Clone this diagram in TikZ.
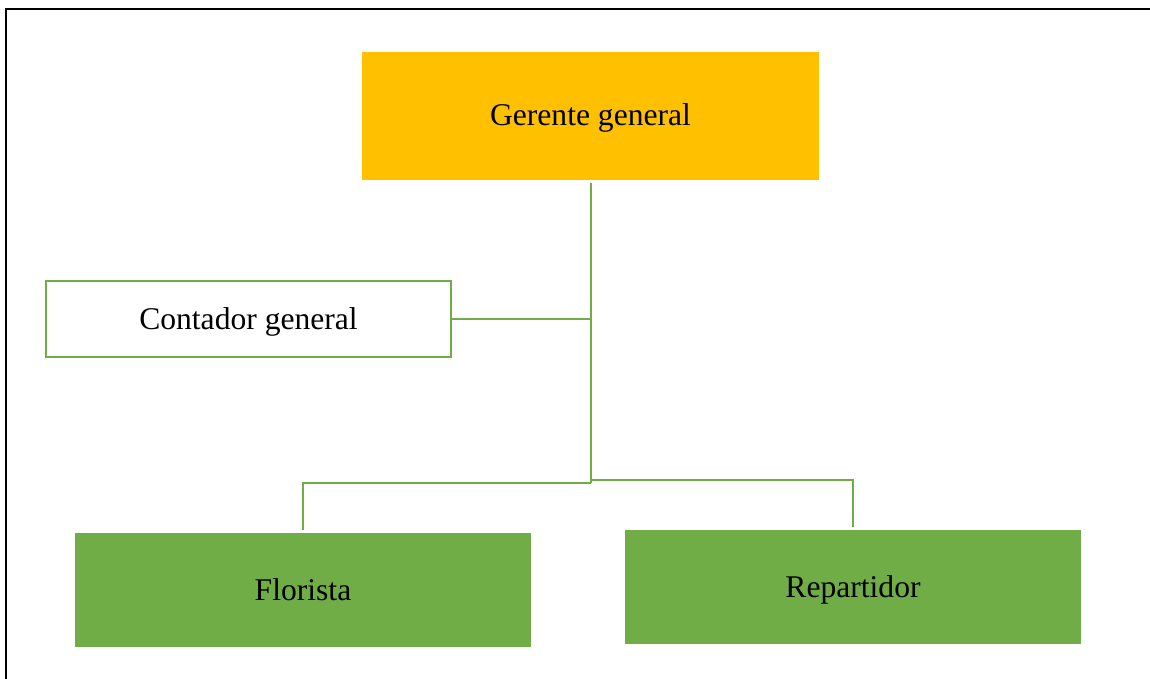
\documentclass[tikz,border=0pt]{standalone}
\usepackage{fontspec}
\setmainfont{Liberation Serif}
\usepackage{xcolor}
\usepackage{tikz}
\usetikzlibrary{positioning, calc}

\definecolor{jefeOro}{HTML}{FFC000}
\definecolor{verdeHoja}{HTML}{70AD47}

\begin{document}
\begin{tikzpicture}[x=0.5pt, y=-0.5pt,
  font=\fontsize{15.8}{19}\selectfont,
  cargo/.style={inner sep=0pt, text height=13pt, text depth=3pt, minimum width=228pt, minimum height=57pt},
  jefe/.style={cargo, fill=jefeOro, minimum width=228.5pt, minimum height=64pt},
  apoyo/.style={cargo, draw=verdeHoja, line width=1.1pt, fill=white, minimum width=202.5pt, minimum height=38pt},
  operativo/.style={cargo, fill=verdeHoja},
  rama/.style={draw=verdeHoja, line width=1.2pt}]
\useasboundingbox (0,0) rectangle (1150,679);
% marco
\draw[line width=1.3pt] (6,679)--(6,9)--(1150,9);
% cargos
\node[jefe] (gerente) at (590.5,116) {Gerente general};
\node[apoyo] (contador) at (248.5,319) {Contador general};
\node[operativo] (florista) at (303,590) {Florista};
\node[operativo] (repartidor) at (853,587) {Repartidor};
% uniones
\coordinate (eje) at (591,319);
\coordinate (bajaIzq) at (591,483);
\coordinate (bajaDer) at (591,480);
\draw[rama] ($(gerente.south)+(0.5,3)$)--(bajaIzq);
\draw[rama] (contador.east)--(contador.east -| eje);
\draw[rama] (bajaIzq)-|($(florista.north)+(0,-3)$);
\draw[rama] (bajaDer)-|($(repartidor.north)+(0,-3)$);
\end{tikzpicture}
\end{document}
